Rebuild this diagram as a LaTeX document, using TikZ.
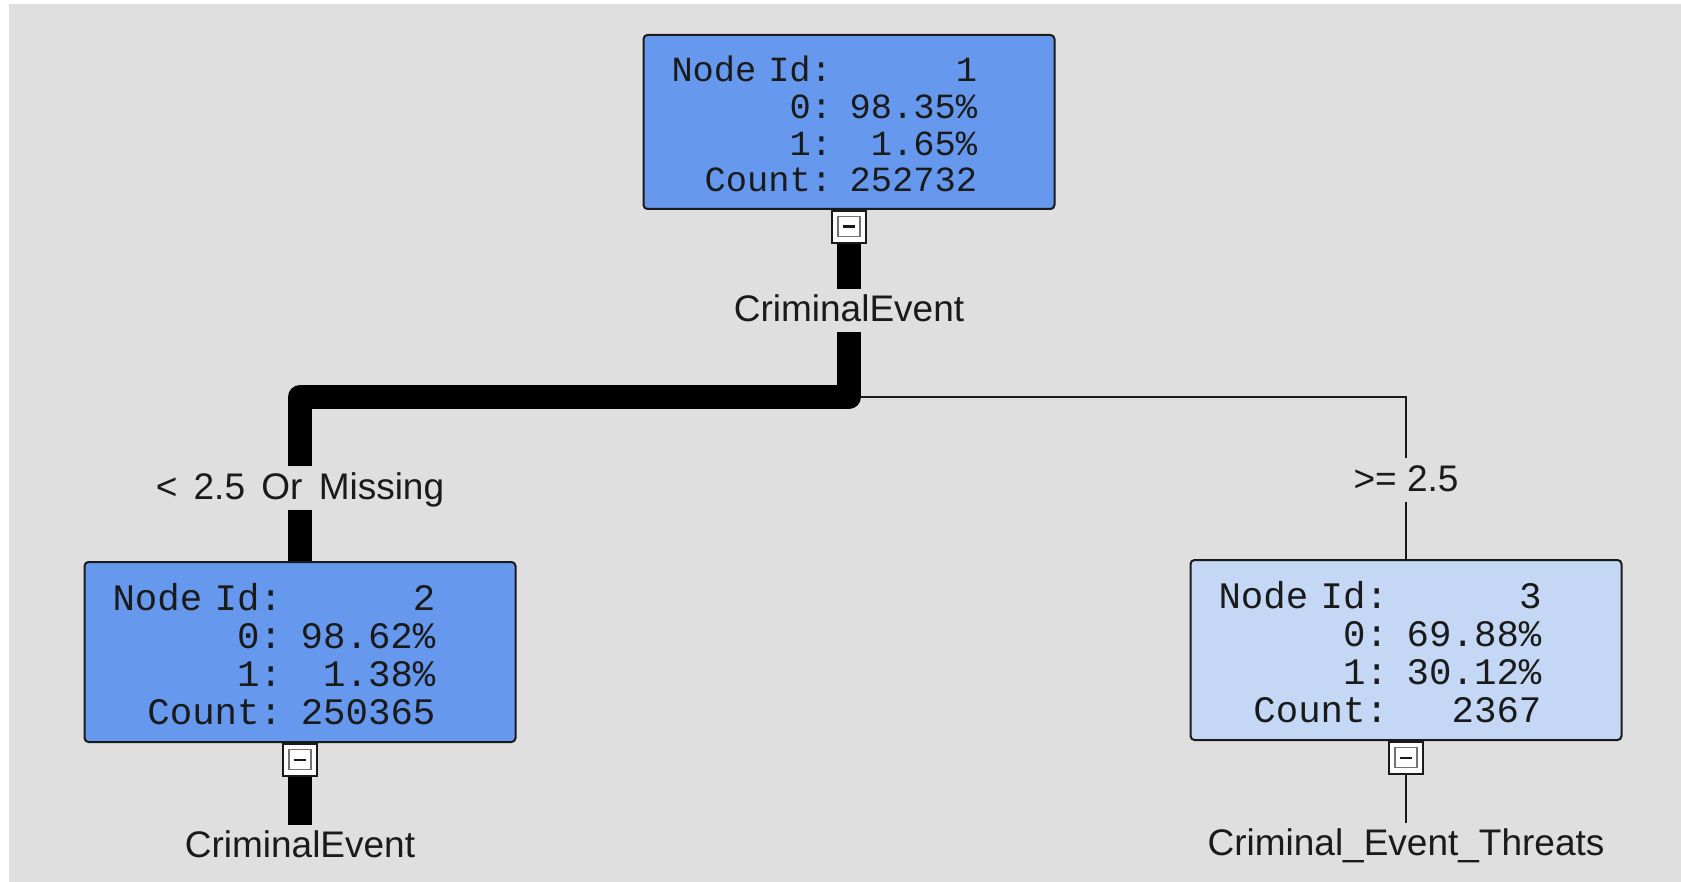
\documentclass[tikz,border=0pt]{standalone}
\usepackage{fontspec}
\usepackage{tikz}
\usetikzlibrary{positioning}
\newfontfamily\statfont{Liberation Mono}
\newfontfamily\labfont{Liberation Sans}
\definecolor{panel}{HTML}{DFDFDF}
\definecolor{deep}{HTML}{6699EE}
\definecolor{pale}{HTML}{C4D7F5}
\definecolor{ink}{HTML}{1A1A1A}
\tikzset{
  stat/.style={draw=ink, line width=1pt, rounded corners=2pt, inner xsep=14pt, inner ysep=0pt, text=ink},
  rootbox/.style={stat, fill=deep, text width=177.5pt, minimum height=87pt,
    font=\statfont\fontsize{17.7}{18.3}\selectfont},
  kidbox/.style={stat, text width=187.5pt, minimum height=90pt,
    font=\statfont\fontsize{18.7}{19}\selectfont},
  toggle/.style={draw=ink, fill=white, line width=0.8pt, minimum width=17pt, minimum height=16pt, inner sep=0pt,
    path picture={
      \draw[black!55, fill=white, line width=0.6pt]
        ([shift={(3pt,3pt)}]path picture bounding box.south west) rectangle
        ([shift={(-3pt,-3pt)}]path picture bounding box.north east);
      \draw[ink, line width=1.3pt]
        ([xshift=-3.2pt]path picture bounding box.center) -- ([xshift=3.2pt]path picture bounding box.center);
    }},
  lab/.style={text=ink, font=\labfont\fontsize{18.5}{20}\selectfont, inner xsep=2pt, inner ysep=3pt,
    text height=13.2pt, text depth=2pt},
  heavy/.style={draw=black, line width=12pt, line join=round},
  light/.style={draw=ink, line width=1pt},
}
\newcommand\statrows[4]{%
  \vspace*{-7.5pt}%
  \begin{tabular}{@{}r@{ }r@{}}
    Node Id:&#1\\
    0:&#2\%\\
    1:&#3\%\\
    Count:&#4
  \end{tabular}}

\begin{document}
\begin{tikzpicture}[x=0.5pt, y=-0.5pt]
  \fill[white] (0,0) rectangle (1681,882);
  \fill[panel] (9,4) rectangle (1681,882);
  \useasboundingbox (0,0) rectangle (1681,882);

  \node[rootbox] (n1) at (849,122) {\statrows{1}{98.35}{1.65}{252732}};
  \node[kidbox, fill=deep] (n2) at (300,652) {\statrows{2}{98.62}{1.38}{250365}};
  \node[kidbox, fill=pale] (n3) at (1406,650) {\statrows{3}{69.88}{30.12}{2367}};

  \node[toggle, anchor=north] (t1) at (n1.south) {};
  \node[toggle, anchor=north] (t2) at (n2.south) {};
  \node[toggle, anchor=north] (t3) at (n3.south) {};

  \node[lab, below=22.5pt of t1] (c1) {CriminalEvent};
  \node[lab, below=24pt of t2] (c2) {CriminalEvent};
  \node[lab, below=24pt of t3] (c3) {Criminal\_Event\_Threats};

  \coordinate (s1) at (849,397);
  \node[lab] (l2) at (300,488) {< \hspace{3pt}2.5 \hspace{3pt}Or \hspace{3pt}Missing};
  \node[lab] (l3) at (1406,480) {>= 2.5};

  \draw[light] (s1) -| (l3);
  \draw[light] (l3) -- (n3);
  \draw[heavy] (t1) -- (c1);
  \draw[heavy] (c1) -- (s1) -| (l2);
  \draw[heavy] (l2) -- (n2);
  \draw[heavy] (t2) -- (c2);
  \draw[light] (t3) -- (c3);
\end{tikzpicture}
\end{document}
